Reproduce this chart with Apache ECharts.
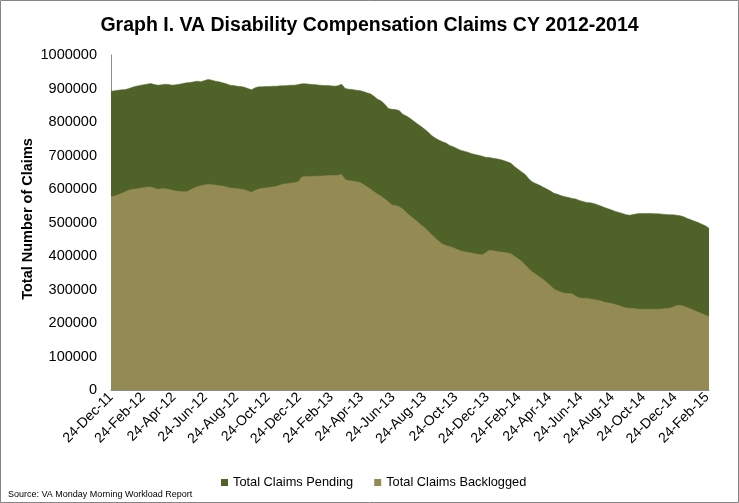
<!DOCTYPE html>
<html>
<head>
<meta charset="utf-8">
<script src="https://cdn.jsdelivr.net/npm/echarts@6/dist/echarts.min.js"></script>
<style>
html,body{margin:0;padding:0;background:#fff;}
#chart{width:739px;height:503px;}
</style>
</head>
<body>
<div id="chart"></div>
<script>
// ---- data ----
const startDate = '2011-12-24';   // first weekly observation
const endDate = '2015-02-28';     // last weekly observation
const seriesNames = ['Total Claims Pending', 'Total Claims Backlogged'];
const yAxisTitle = 'Total Number of Claims';
const monthNames = ['Jan','Feb','Mar','Apr','May','Jun','Jul','Aug','Sep','Oct','Nov','Dec'];
const yTicks = [0,100000,200000,300000,400000,500000,600000,700000,800000,900000,1000000];

// weekly values (thousands)
const pendingK = [
 892,893,895,896,897,900,904,907,909,911,
 913,915,912,910,911,913,912,910,911,913,
 915,917,918,920,922,920,924,927,925,922,
 920,917,914,910,909,907,906,904,900,896,
 902,905,905,906,906,907,907,908,908,909,
 910,910,912,914,914,913,912,911,910,909,
 909,908,907,908,913,900,898,897,895,894,
 891,887,884,877,868,863,853,840,838,837,
 834,823,818,811,803,795,787,779,770,760,
 752,746,741,737,730,726,721,716,713,710,
 706,703,701,698,695,694,692,690,688,685,
 681,677,667,659,651,643,630,621,616,611,
 605,600,594,587,584,580,577,575,572,570,
 566,563,560,559,557,553,549,545,541,537,
 533,530,527,523,522,524,526,527,527,527,
 527,526,526,525,524,523,523,522,520,517,
 512,508,504,500,495,490,483
];
const backlogK = [
 577,579,583,587,592,597,599,600,602,604,
 606,606,603,599,601,601,599,596,594,593,
 592,592,597,603,607,610,612,614,613,612,
 610,609,606,603,602,601,600,598,594,590,
 596,600,602,603,605,606,608,612,615,616,
 618,619,622,636,637,637,638,638,639,639,
 640,640,640,641,643,628,625,624,622,620,
 614,607,600,592,584,578,570,562,552,551,
 547,540,530,520,512,503,493,485,475,464,
 454,444,436,431,428,425,420,416,413,411,
 409,407,405,403,410,417,416,414,412,411,
 409,407,399,392,384,373,362,352,345,337,
 330,321,311,301,296,292,289,288,287,280,
 275,274,274,272,270,268,266,262,260,258,
 255,252,248,245,244,243,242,241,241,241,
 241,241,241,242,243,244,248,252,253,250,
 246,242,237,232,228,224,219
];

// ---- build categories (daily) and weekly points ----
function iso(d){return d.toISOString().slice(0,10);}
const days = [];
{
  let d = new Date(startDate + 'T00:00:00Z');
  const e = new Date(endDate + 'T00:00:00Z');
  while (d <= e) { days.push(iso(d)); d = new Date(d.getTime() + 86400000); }
}
const weekDates = [];
{
  let d = new Date(startDate + 'T00:00:00Z');
  for (let i = 0; i < pendingK.length; i++) { weekDates.push(iso(d)); d = new Date(d.getTime() + 7*86400000); }
}
const pendingData = weekDates.map((d,i)=>[d, pendingK[i]*1000]);
const backlogData = weekDates.map((d,i)=>[d, backlogK[i]*1000]);

function fmt(s){
  const p = s.split('-');
  return parseInt(p[2],10) + '-' + monthNames[parseInt(p[1],10)-1] + '-' + p[0].slice(2);
}
function isLabelDay(s){
  const p = s.split('-');
  return p[2] === '24' && parseInt(p[1],10) % 2 === 0;
}

const FONT = '"Liberation Sans", Arial, sans-serif';
const chart = echarts.init(document.getElementById('chart'), null, {renderer:'canvas'});
chart.setOption({
  animation: false,
  backgroundColor: '#ffffff',
  title: {
    text: 'Graph I. VA Disability Compensation Claims CY 2012-2014',
    left: 'center', top: 11,
    textStyle: {fontFamily: FONT, fontSize: 19.5, fontWeight: 'bold', color: '#000'}
  },
  legend: {
    data: seriesNames,
    bottom: 9, left: 216,
    icon: 'rect', itemWidth: 7, itemHeight: 7, itemGap: 21,
    textStyle: {fontFamily: FONT, fontSize: 12.8, color: '#000'}
  },
  grid: {left: 111, right: 30, top: 55, bottom: 113, containLabel: false},
  xAxis: {
    type: 'category',
    data: days,
    boundaryGap: false,
    axisLine: {lineStyle: {color: '#8c8c8c'}},
    axisTick: {show: false},
    axisLabel: {
      interval: (idx, val) => isLabelDay(val),
      rotate: 45,
      formatter: v => fmt(v),
      fontFamily: FONT, fontSize: 14, color: '#000', margin: 5
    },
    splitLine: {show: false}
  },
  yAxis: {
    type: 'value',
    min: yTicks[0], max: yTicks[yTicks.length-1], interval: 100000,
    axisLine: {show: true, lineStyle: {color: '#8c8c8c'}},
    axisTick: {show: false},
    splitLine: {show: false},
    axisLabel: {fontFamily: FONT, fontSize: 14.5, color: '#000', margin: 14,
                formatter: v => String(v)}
  },
  series: [
    {
      name: seriesNames[0], type: 'line', data: pendingData,
      symbol: 'none', lineStyle: {width: 0.5, color: '#4F6228'},
      itemStyle: {color: '#4F6228'},
      areaStyle: {color: '#4F6228', opacity: 1}, z: 2
    },
    {
      name: seriesNames[1], type: 'line', data: backlogData,
      symbol: 'none', lineStyle: {width: 0.5, color: '#948A54'},
      itemStyle: {color: '#948A54'},
      areaStyle: {color: '#948A54', opacity: 1}, z: 3
    }
  ],
  graphic: [
    {type: 'rect', shape: {x: 0.5, y: 0.5, width: 738, height: 502},
     style: {fill: 'none', stroke: '#858585', lineWidth: 1}, silent: true},
    {type: 'text', x: 28, y: 219, rotation: Math.PI / 2,
     style: {text: yAxisTitle, font: 'bold 14.5px ' + FONT, fill: '#000',
             align: 'center', verticalAlign: 'middle'}},
    {type: 'text', left: 8, top: 490,
     style: {text: 'Source: VA Monday Morning Workload Report', font: '9px ' + FONT, fill: '#000'}}
  ]
});
</script>
</body>
</html>
